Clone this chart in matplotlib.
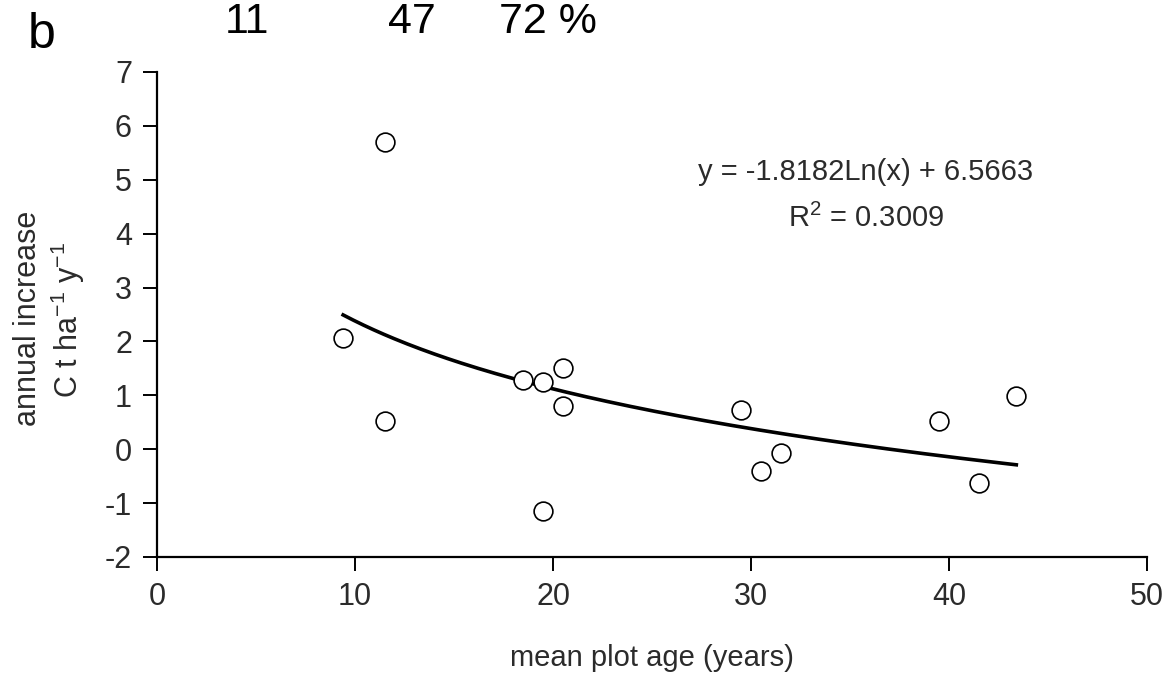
import matplotlib
matplotlib.use("Agg")
import matplotlib.pyplot as plt
import numpy as np

plt.rcParams['font.family'] = ['Liberation Sans', 'DejaVu Sans']

age = [9.4, 11.5, 11.5, 18.5, 19.5, 19.5, 20.5, 20.5, 29.5, 30.5, 31.5, 39.5, 41.5, 43.4]
increase = [2.06, 5.70, 0.52, 1.29, 1.24, -1.14, 1.51, 0.80, 0.73, -0.40, -0.07, 0.53, -0.63, 0.99]
fit_a = -1.8182
fit_b = 6.5663
top_labels = ["11", "47", "72 %"]

fig = plt.figure(figsize=(11.68, 6.75), dpi=100)
ax = fig.add_axes([157/1168, 1-557/675, 990/1168, 485/675])

tc = '#2b2b2b'
ax.plot(age, increase, linestyle='none', marker='o', markersize=13.5,
        markerfacecolor='white', markeredgecolor='black', markeredgewidth=1.2, zorder=3)
xs = np.linspace(min(age), max(age), 200)
ax.plot(xs, fit_a*np.log(xs) + fit_b, color='black', lw=2.6, zorder=2)

ax.set_xlim(0, 50)
ax.set_ylim(-2, 7)
ax.set_xticks(range(0, 51, 10))
ax.set_yticks(range(-2, 8))
ax.set_yticklabels([str(v) for v in range(-2, 8)])
for s in ['top', 'right']:
    ax.spines[s].set_visible(False)
for s in ['left', 'bottom']:
    ax.spines[s].set_linewidth(1.6)
ax.tick_params(direction='out', length=10, width=1.4, labelsize=22, colors='black', labelcolor=tc, pad=8)

fs = 21
ax.text(35.8, 5.14, "y = -1.8182Ln(x) + 6.5663", ha='center', va='center', fontsize=fs, color=tc)
ax.text(35.8, 4.29, "R$^{\\mathregular{2}}$ = 0.3009", ha='center', va='center', fontsize=fs, color=tc)

fig.text(652/1168, 1-658/675, "mean plot age (years)", ha='center', va='center', fontsize=fs, color=tc)
fig.text(28/1168, 1-318/675, "annual increase", ha='center', va='center', rotation=90, fontsize=22, color=tc)
fig.text(68/1168, 1-320/675, "C t ha$^{\\mathregular{-1}}$ y$^{\\mathregular{-1}}$", ha='center', va='center',
         rotation=90, fontsize=22, color=tc)

fig.text(42/1168, 1-35/675, "b", ha='center', va='center', fontsize=36, color='black')
for lab, xp in zip(top_labels, [247, 412, 548]):
    fig.text(xp/1168, 1-22/675, lab, ha='center', va='center', fontsize=31, color='black')

fig.savefig('out.png', dpi=100, facecolor='white')
